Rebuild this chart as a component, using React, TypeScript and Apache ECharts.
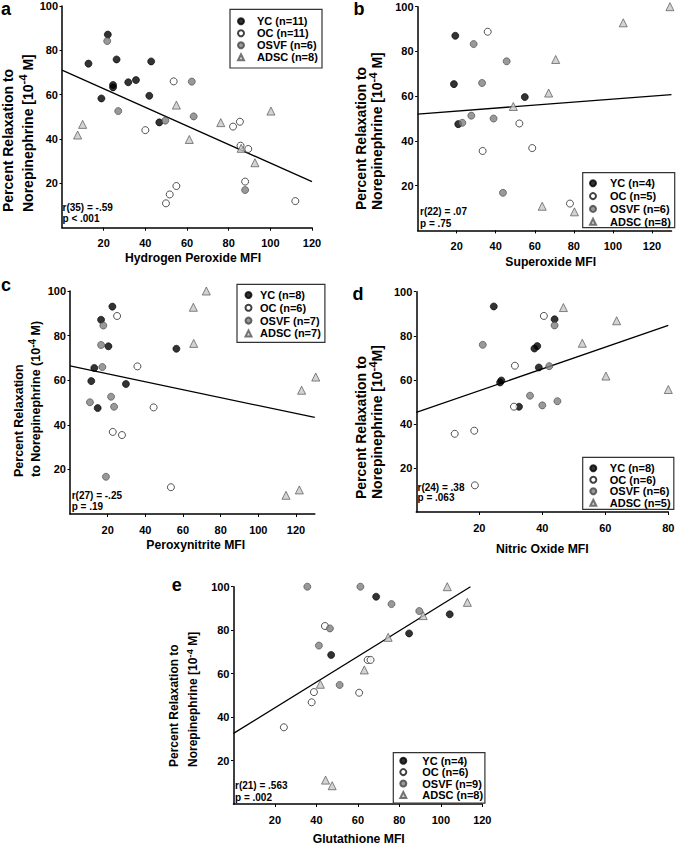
import React, { useEffect, useRef } from "react";
import * as echarts from "echarts";

// ---------------- DATA ----------------
const yTicks = [20, 40, 60, 80, 100];
const xTicks120 = [20, 40, 60, 80, 100, 120];
const xTicks80 = [20, 40, 60, 80];

// Panel a : Hydrogen Peroxide
const aNames = ["YC (n=11)", "OC (n=11)", "OSVF (n=6)", "ADSC (n=8)"];
const aYC = [[22.0, 87.1], [12.7, 74.0], [26.2, 75.9], [42.8, 75.0], [24.5, 64.4], [24.5, 63.3], [31.8, 65.6], [35.5, 66.6], [18.9, 58.3], [41.9, 59.5], [46.7, 47.5]];
const aOC = [[53.6, 66.0], [40.0, 44.0], [49.9, 11.0], [51.7, 15.0], [54.9, 18.8], [82.1, 45.6], [85.4, 47.8], [85.7, 37.0], [89.4, 35.5], [87.9, 20.8], [112.0, 12.0]];
const aOSVF = [[21.7, 84.2], [27.0, 52.6], [49.6, 48.3], [62.3, 65.9], [63.2, 50.2], [87.9, 17.0]];
const aADSC = [[7.5, 41.8], [9.9, 46.6], [54.9, 55.3], [61.1, 39.8], [76.2, 47.4], [86.0, 35.8], [92.6, 29.3], [100.3, 52.6]];
const aFit = [[0, 71.1], [120, 20.75]];
const aStats = ["r(35) = -.59", "p < .001"];
const aXTitle = "Hydrogen Peroxide MFI";

// Panel b : Superoxide
const bNames = ["YC (n=4)", "OC (n=5)", "OSVF (n=6)", "ADSC (n=8)"];
const bYC = [[19.3, 87.0], [18.6, 65.4], [20.8, 47.5], [54.9, 59.6]];
const bOC = [[35.9, 88.8], [52.1, 47.8], [33.3, 35.5], [58.7, 36.8], [78.0, 12.0]];
const bOSVF = [[28.7, 83.3], [45.6, 75.6], [33.0, 65.9], [22.9, 48.1], [27.5, 51.3], [38.9, 50.0], [43.7, 16.8]];
const bADSC = [[129.2, 100], [105.3, 92.8], [70.7, 76.4], [67.1, 61.4], [49.0, 55.4], [63.8, 10.8], [80.3, 8.3]];
const bFit = [[0, 52.0], [130, 60.7]];
const bStats = ["r(22) = .07", "p = .75"];
const bXTitle = "Superoxide MFI";

// Panel c : Peroxynitrite
const cNames = ["YC (n=8)", "OC (n=6)", "OSVF (n=7)", "ADSC (n=7)"];
const cYC = [[22.5, 93.0], [16.5, 87.1], [20.4, 75.2], [12.9, 65.5], [11.3, 59.6], [14.7, 47.5], [29.7, 58.3], [56.5, 74.1]];
const cOC = [[25.0, 88.8], [35.8, 66.2], [44.4, 47.8], [22.7, 36.8], [27.6, 35.4], [53.6, 12.0]];
const cOSVF = [[17.7, 84.5], [16.5, 75.8], [17.2, 65.9], [21.8, 52.6], [23.4, 48.1], [10.6, 50.1], [19.1, 16.7]];
const cADSC = [[72.4, 100], [65.5, 92.7], [65.7, 76.5], [130.5, 61.4], [123.0, 55.5], [114.7, 8.4], [121.8, 10.8]];
const cFit = [[0, 66.4], [130, 43.3]];
const cStats = ["r(27) = -.25", "p = .19"];
const cXTitle = "Peroxynitrite MFI";

// Panel d : Nitric Oxide
const dNames = ["YC (n=8)", "OC (n=6)", "OSVF (n=6)", "ADSC (n=5)"];
const dYC = [[24.6, 93.3], [43.9, 87.5], [37.5, 74.2], [38.4, 75.3], [38.9, 65.6], [26.6, 58.8], [27.0, 59.7], [32.6, 47.8]];
const dOC = [[40.5, 89.0], [31.3, 66.4], [31.0, 47.8], [12.2, 35.5], [18.4, 36.9], [18.6, 12.1]];
const dOSVF = [[21.1, 75.9], [43.9, 84.7], [42.2, 66.2], [36.1, 52.8], [40.0, 48.4], [44.8, 50.3]];
const dADSC = [[46.7, 92.8], [63.6, 86.8], [52.7, 76.6], [60.2, 61.7], [80.0, 55.6]];
const dFit = [[0, 45.2], [80, 84.7]];
const dStats = ["r(24) = .38", "p = .063"];
const dXTitle = "Nitric Oxide MFI";

// Panel e : Glutathione
const eNames = ["YC (n=4)", "OC (n=6)", "OSVF (n=9)", "ADSC (n=8)"];
const eYC = [[68.8, 95.4], [47.1, 68.6], [84.7, 78.5], [104.3, 87.3]];
const eOC = [[44.1, 81.9], [64.7, 66.3], [66.1, 66.3], [38.8, 51.5], [37.7, 46.8], [60.6, 51.2], [24.3, 35.3]];
const eOSVF = [[35.6, 100], [61.2, 100], [76.2, 92.0], [89.6, 88.8], [46.5, 80.8], [41.2, 72.9], [51.2, 54.8]];
const eADSC = [[103.1, 100], [112.8, 92.8], [91.5, 86.7], [74.6, 76.7], [63.1, 61.7], [41.9, 55.1], [44.4, 11.0], [47.6, 8.4]];
const eFit = [[0, 32.5], [114.3, 100]];
const eStats = ["r(21) = .563", "p = .002"];
const eXTitle = "Glutathione MFI";

// ---------------- STYLE / LAYOUT ----------------
const FONT = '"Liberation Sans", Arial, Helvetica, sans-serif';

const GROUP_STYLES = [
  { symbol: "circle", symbolSize: 7, itemStyle: { color: "#000000", borderColor: "#000000", borderWidth: 0.8 } },
  { symbol: "circle", symbolSize: 7, itemStyle: { color: "#ffffff", borderColor: "#111111", borderWidth: 0.9 } },
  { symbol: "circle", symbolSize: 7, itemStyle: { color: "#7f7f7f", borderColor: "#444444", borderWidth: 0.8 } },
  { symbol: "triangle", symbolSize: 8, itemStyle: { color: "#c8c8c8", borderColor: "#555555", borderWidth: 0.9 } },
];

const panels = [
  {
    label: "a", labelPos: [6, 9], names: aNames, groups: [aYC, aOC, aOSVF, aADSC], fit: aFit, stats: aStats, xTitle: aXTitle,
    grid: { left: 62, top: 6, width: 250, height: 221.7 }, xMax: 120, xTicks: xTicks120,
    statsPos: [62.5, 207.3, 218.3], xTitlePos: [193, 258.3],
    yTitle: { l1: "Percent Relaxation to", pre: "Norepinephrine [10", sup: "-4", post: " M]", size: 14, x1: 8, x2: 27.5, bottom: 212 },
    legend: { left: 230, top: 9.3, pad: [6.5, 4.2, 5.2, 7], gap: 1, textPad: 8 },
  },
  {
    label: "b", labelPos: [359, 9], names: bNames, groups: [bYC, bOC, bOSVF, bADSC], fit: bFit, stats: bStats, xTitle: bXTitle,
    grid: { left: 417.6, top: 6.7, width: 253.9, height: 223.7 }, xMax: 130, xTicks: xTicks120,
    statsPos: [420, 211.7, 223], xTitlePos: [550.7, 261.7],
    yTitle: { l1: "Percent Relaxation to", pre: "Norepinephrine [10", sup: "-4", post: " M]", size: 14, x1: 360.7, x2: 377, bottom: 210 },
    legend: { left: 582.7, top: 172.7, pad: [5.1, 3.9, 0.5, 6.3], gap: 1.8, textPad: 9 },
  },
  {
    label: "c", labelPos: [6, 285.4], names: cNames, groups: [cYC, cOC, cOSVF, cADSC], fit: cFit, stats: cStats, xTitle: cXTitle,
    grid: { left: 70, top: 291, width: 244.8, height: 223 }, xMax: 130, xTicks: xTicks120,
    statsPos: [71.7, 495, 506], xTitlePos: [195.7, 545],
    yTitle: { l1: "Percent Relaxation", pre: "to Norepinephrine (10", sup: "-4", post: " M)", size: 12.5, x1: 19, x2: 36, bottom: 477 },
    legend: { left: 237, top: 284.3, pad: [5.2, 4.1, 3.5, 7.5], gap: 1.8, textPad: 3.5 },
  },
  {
    label: "d", labelPos: [358, 293.7], names: dNames, groups: [dYC, dOC, dOSVF, dADSC], fit: dFit, stats: dStats, xTitle: dXTitle,
    grid: { left: 416.3, top: 291.7, width: 252, height: 220.3 }, xMax: 80, xTicks: xTicks80,
    statsPos: [417.5, 487, 497.5], xTitlePos: [542.3, 549],
    yTitle: { l1: "Percent Relaxation to", pre: "Norepinephrine [10", sup: "-4", post: "M]", size: 14, x1: 360.7, x2: 377, bottom: 499 },
    legend: { left: 582.7, top: 457.3, pad: [5.5, 3.2, 1.1, 6.6], gap: 0.5, textPad: 8.5 },
  },
  {
    label: "e", labelPos: [176.7, 585.4], names: eNames, groups: [eYC, eOC, eOSVF, eADSC], fit: eFit, stats: eStats, xTitle: eXTitle,
    grid: { left: 233.5, top: 586.7, width: 248.8, height: 217.3 }, xMax: 120, xTicks: xTicks120,
    statsPos: [235, 785, 797.3], xTitlePos: [358.7, 839.3],
    yTitle: { l1: "Percent Relaxation to", pre: "Norepinephrine [10", sup: "-4", post: " M]", size: 12, x1: 174, x2: 193, bottom: 767 },
    legend: { left: 393.3, top: 752.7, pad: [2.5, 1.8, 2.8, 6], gap: 0.4, textPad: 11 },
  },
];

function buildOption() {
  const grid: any[] = [];
  const xAxis: any[] = [];
  const yAxis: any[] = [];
  const series: any[] = [];
  const legend: any[] = [];
  const graphic: any[] = [];

  const axisCommon = {
    type: "value",
    min: 0,
    interval: 20,
    splitLine: { show: false },
    axisLine: { show: true, onZero: false, lineStyle: { color: "#000", width: 1.5 } },
    axisTick: { show: true, inside: false, length: 3, lineStyle: { color: "#000", width: 1 } },
  };
  const labelText = { fontSize: 11, fontWeight: "bold", fontFamily: FONT, color: "#000" };

  panels.forEach((p, i) => {
    grid.push({ ...p.grid, containLabel: false, outerBoundsMode: "none" });
    xAxis.push({
      ...axisCommon,
      gridIndex: i,
      max: p.xMax,
      axisTick: { ...axisCommon.axisTick, customValues: p.xTicks },
      axisLabel: {
        ...labelText,
        margin: 10,
        customValues: p.xTicks,
        formatter: (v: number) => (v !== 0 && v % 20 === 0 ? String(v) : ""),
      },
    });
    yAxis.push({
      ...axisCommon,
      gridIndex: i,
      max: 100,
      axisTick: { ...axisCommon.axisTick, length: 2.5, customValues: yTicks },
      axisLabel: {
        ...labelText,
        margin: 4,
        customValues: yTicks,
        formatter: (v: number) => (v !== 0 ? String(v) : ""),
      },
    });

    series.push({
      type: "line",
      name: "fit-" + p.label,
      xAxisIndex: i,
      yAxisIndex: i,
      data: p.fit,
      symbol: "none",
      showSymbol: false,
      silent: true,
      z: 2,
      lineStyle: { color: "#000", width: 1.3 },
    });
    p.groups.forEach((g, k) => {
      const st = GROUP_STYLES[k];
      series.push({
        type: "scatter",
        name: p.names[k],
        xAxisIndex: i,
        yAxisIndex: i,
        data: g,
        symbol: st.symbol,
        symbolSize: st.symbolSize,
        itemStyle: st.itemStyle,
        clip: false,
        z: 3,
      });
    });

    legend.push({
      show: true,
      orient: "vertical",
      left: p.legend.left,
      top: p.legend.top,
      padding: p.legend.pad,
      itemGap: p.legend.gap,
      itemWidth: 6,
      itemHeight: 6,
      selectedMode: false,
      backgroundColor: "#fff",
      borderColor: "#333",
      borderWidth: 1.2,
      borderRadius: 0,
      z: 10,
      data: p.names,
      textStyle: {
        fontSize: 11,
        fontWeight: "bold",
        fontFamily: FONT,
        color: "#000",
        lineHeight: 11,
        padding: [0, 0, 0, p.legend.textPad],
      },
    });

    // panel letter
    graphic.push({
      type: "text",
      x: p.labelPos[0],
      y: p.labelPos[1],
      style: {
        text: p.label,
        fontSize: 18,
        lineHeight: 12,
        fontWeight: "bold",
        fontFamily: FONT,
        fill: "#000",
        align: "center",
        verticalAlign: "middle",
        textAlign: "center",
        textVerticalAlign: "middle",
      },
    });
    // stats
    p.stats.forEach((s, k) => {
      graphic.push({
        type: "text",
        x: p.statsPos[0],
        y: p.statsPos[k + 1],
        z: 20,
        style: {
          text: s,
          fontSize: 10,
          fontWeight: "bold",
          fontFamily: FONT,
          fill: "#000",
          align: "left",
          verticalAlign: "middle",
          textAlign: "left",
          textVerticalAlign: "middle",
        },
      });
    });
    // x title
    graphic.push({
      type: "text",
      x: p.xTitlePos[0],
      y: p.xTitlePos[1],
      style: {
        text: p.xTitle,
        fontSize: 12.2,
        fontWeight: "bold",
        fontFamily: FONT,
        fill: "#000",
        align: "center",
        verticalAlign: "middle",
        textAlign: "center",
        textVerticalAlign: "middle",
      },
    });
    // y title, two rotated lines, start-aligned at bottom
    const yt = p.yTitle;
    graphic.push({
      type: "text",
      x: yt.x1,
      y: yt.bottom,
      rotation: Math.PI / 2,
      style: {
        text: yt.l1,
        fontSize: yt.size,
        fontWeight: "bold",
        fontFamily: FONT,
        fill: "#000",
        align: "left",
        verticalAlign: "middle",
        textAlign: "left",
        textVerticalAlign: "middle",
      },
    });
    graphic.push({
      type: "text",
      x: yt.x2,
      y: yt.bottom,
      rotation: Math.PI / 2,
      style: {
        text: `{n|${yt.pre}}{s|${yt.sup}}{n|${yt.post}}`,
        fontSize: yt.size,
        fontWeight: "bold",
        fontFamily: FONT,
        fill: "#000",
        align: "left",
        verticalAlign: "middle",
        textAlign: "left",
        textVerticalAlign: "middle",
        rich: {
          n: { fontSize: yt.size, fontWeight: "bold", fontFamily: FONT, fill: "#000", lineHeight: yt.size * 1.4, verticalAlign: "middle" },
          s: { fontSize: yt.size * 0.8, fontWeight: "bold", fontFamily: FONT, fill: "#000", lineHeight: yt.size * 0.8, verticalAlign: "top" },
        },
      },
    });
  });

  return {
    animation: false,
    backgroundColor: "#fff",
    grid,
    xAxis,
    yAxis,
    series,
    legend,
    graphic: { elements: graphic },
  };
}

export default function App() {
  const ref = useRef<HTMLDivElement>(null);
  useEffect(() => {
    document.body.style.margin = "0";
    const chart = echarts.init(ref.current!, undefined, { renderer: "svg", width: 678, height: 847 });
    chart.setOption(buildOption() as any);
    return () => chart.dispose();
  }, []);
  return <div ref={ref} style={{ width: 678, height: 847 }} />;
}
